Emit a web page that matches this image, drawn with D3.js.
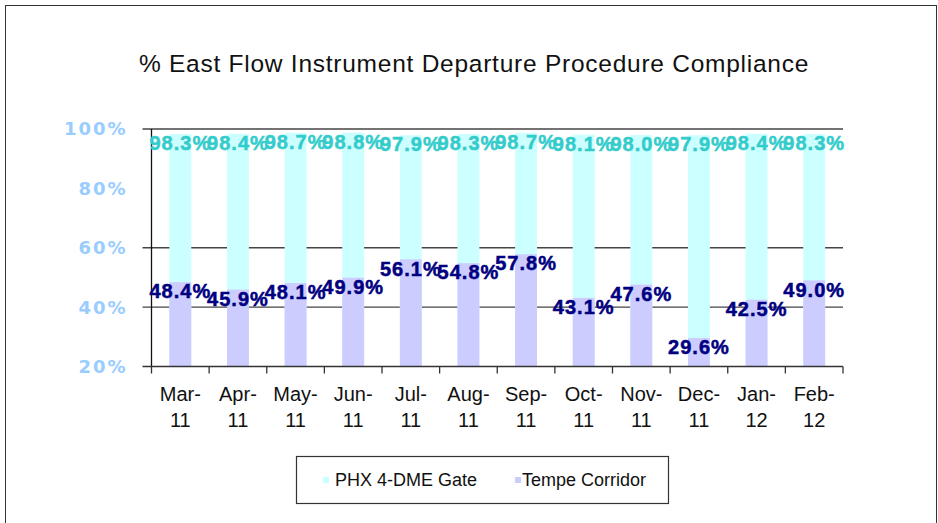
<!DOCTYPE html>
<html>
<head>
<meta charset="utf-8">
<script src="https://cdn.jsdelivr.net/npm/d3@7"></script>
<style>
  html, body { margin: 0; padding: 0; background: #fff; }
  #chart { width: 938px; height: 523px; }
</style>
</head>
<body>
<div id="chart"></div>
<script>
// data
const months = ["Mar-11", "Apr-11", "May-11", "Jun-11", "Jul-11", "Aug-11",
  "Sep-11", "Oct-11", "Nov-11", "Dec-11", "Jan-12", "Feb-12"];
const phxGate = [98.3, 98.4, 98.7, 98.8, 97.9, 98.3, 98.7, 98.1, 98.0, 97.9, 98.4, 98.3];
const tempeCorridor = [48.4, 45.9, 48.1, 49.9, 56.1, 54.8, 57.8, 43.1, 47.6, 29.6, 42.5, 49.0];
const yTicks = [20, 40, 60, 80, 100];
const gridTicks = [40, 60, 100];
const seriesNames = ["PHX 4-DME Gate", "Tempe Corridor"];

(function () {
  const width = 938, height = 523;
  const margin = { top: 129, right: 95, bottom: 156.5, left: 151.5 };
  const innerW = width - margin.left - margin.right;
  const innerH = height - margin.top - margin.bottom;

  const colors = { phx: "#ccffff", tempe: "#ccccff" };
  const labelColors = { phx: "#33cccc", tempe: "#000080" };

  const svg = d3.select("#chart").append("svg")
    .attr("width", width)
    .attr("height", height);

  // outer frame
  svg.append("rect")
    .attr("x", 5.5).attr("y", 5.5)
    .attr("width", 931).attr("height", 530)
    .attr("fill", "none")
    .attr("stroke", "#333")
    .attr("stroke-width", 1);

  svg.append("text")
    .attr("x", 474)
    .attr("y", 72)
    .attr("text-anchor", "middle")
    .style("font-family", "Liberation Sans, Arial, sans-serif")
    .style("font-size", "24.5px")
    .style("letter-spacing", "0.75px")
    .style("fill", "#111")
    .text("% East Flow Instrument Departure Procedure Compliance");

  const g = svg.append("g")
    .attr("transform", `translate(${margin.left},${margin.top})`);

  const x = d3.scaleBand().domain(months).range([0, innerW]).padding(0);
  const xb = d3.scaleBand().domain(months).range([0, innerW])
    .paddingInner(0.62).paddingOuter(0.31);
  const y = d3.scaleLinear().domain([20, 100]).range([innerH, 0]);

  // gridlines
  g.selectAll("line.grid")
    .data(gridTicks)
    .enter().append("line")
    .attr("class", "grid")
    .attr("x1", -9).attr("x2", innerW)
    .attr("y1", (d) => y(d)).attr("y2", (d) => y(d))
    .attr("stroke", "#444")
    .attr("stroke-width", 1.3);

  // bars (PHX behind, Tempe in front)
  g.selectAll("rect.phx")
    .data(months)
    .enter().append("rect")
    .attr("class", "phx")
    .attr("x", (d) => xb(d))
    .attr("width", xb.bandwidth())
    .attr("y", (d, i) => y(phxGate[i]))
    .attr("height", (d, i) => innerH - y(phxGate[i]))
    .attr("fill", colors.phx);

  g.selectAll("rect.tempe")
    .data(months)
    .enter().append("rect")
    .attr("class", "tempe")
    .attr("x", (d) => xb(d))
    .attr("width", xb.bandwidth())
    .attr("y", (d, i) => y(tempeCorridor[i]))
    .attr("height", (d, i) => innerH - y(tempeCorridor[i]))
    .attr("fill", colors.tempe);

  // axes
  g.append("line")
    .attr("x1", 0).attr("x2", 0).attr("y1", 0).attr("y2", innerH)
    .attr("stroke", "#111").attr("stroke-width", 1.3);

  g.append("line")
    .attr("x1", -9).attr("x2", innerW).attr("y1", innerH).attr("y2", innerH)
    .attr("stroke", "#333").attr("stroke-width", 1.5);

  const xTickPos = months.map((d) => x(d)).concat([innerW]);
  g.selectAll("line.xtick")
    .data(xTickPos)
    .enter().append("line")
    .attr("class", "xtick")
    .attr("x1", (d) => d).attr("x2", (d) => d)
    .attr("y1", innerH).attr("y2", innerH + 7)
    .attr("stroke", "#333").attr("stroke-width", 1.3);

  // y tick labels
  g.selectAll("text.ylab")
    .data(yTicks)
    .enter().append("text")
    .attr("class", "ylab")
    .attr("x", -24)
    .attr("y", (d) => y(d))
    .attr("dy", "0.36em")
    .attr("text-anchor", "end")
    .style("font-family", "DejaVu Sans, Verdana, sans-serif")
    .style("font-weight", "bold")
    .style("font-size", "18px")
    .style("letter-spacing", "2px")
    .style("fill", "#99ccff")
    .text((d) => d + "%");

  // x labels (two lines)
  const xl = g.selectAll("text.xlab")
    .data(months)
    .enter().append("text")
    .attr("class", "xlab")
    .attr("text-anchor", "middle")
    .style("font-family", "Liberation Sans, Arial, sans-serif")
    .style("font-size", "20px")
    .style("fill", "#111");
  xl.append("tspan")
    .attr("x", (d) => x(d) + x.bandwidth() / 2)
    .attr("y", innerH + 34)
    .text((d) => d.split("-")[0] + "-");
  xl.append("tspan")
    .attr("x", (d) => x(d) + x.bandwidth() / 2)
    .attr("y", innerH + 60)
    .text((d) => d.split("-")[1]);

  // value labels
  function addLabels(values, cls, color) {
    g.selectAll("text." + cls)
      .data(values)
      .enter().append("text")
      .attr("class", cls)
      .attr("x", (d, i) => xb(months[i]) + xb.bandwidth() / 2)
      .attr("y", (d) => y(d) + 9)
      .attr("dy", "0.36em")
      .attr("text-anchor", "middle")
      .style("font-family", "Liberation Sans, Arial, sans-serif")
      .style("font-weight", "bold")
      .style("font-size", "20px")
      .style("letter-spacing", "1px")
      .style("stroke", color)
      .style("stroke-width", 0.5)
      .style("fill", color)
      .text((d) => d.toFixed(1) + "%");
  }
  addLabels(phxGate, "lab-phx", labelColors.phx);
  addLabels(tempeCorridor, "lab-tempe", labelColors.tempe);

  // legend
  const lg = svg.append("g").attr("transform", "translate(296,456)");
  lg.append("rect")
    .attr("x", 0.5).attr("y", 0.5)
    .attr("width", 372).attr("height", 47)
    .attr("fill", "#fff")
    .attr("stroke", "#333")
    .attr("stroke-width", 1.2);
  const items = [
    { name: seriesNames[0], color: colors.phx, x: 27, tx: 39 },
    { name: seriesNames[1], color: colors.tempe, x: 219, tx: 226 },
  ];
  items.forEach((it) => {
    lg.append("rect")
      .attr("x", it.x).attr("y", 21)
      .attr("width", 6).attr("height", 6)
      .attr("fill", it.color);
    lg.append("text")
      .attr("x", it.tx)
      .attr("y", 24)
      .attr("dy", "0.36em")
      .style("font-family", "Liberation Sans, Arial, sans-serif")
      .style("font-size", "18px")
      .style("fill", "#111")
      .text(it.name);
  });
})();
</script>
</body>
</html>
